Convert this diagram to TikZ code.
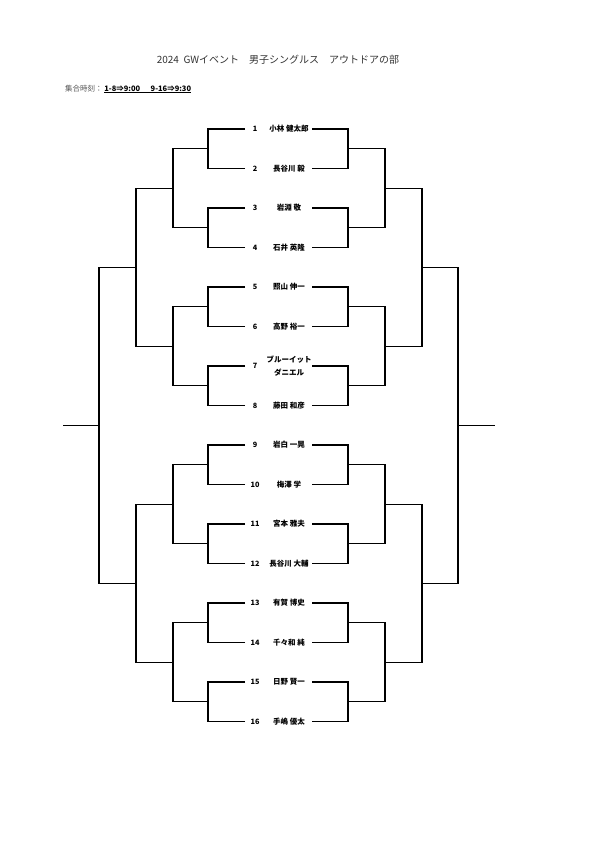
\documentclass[tikz,border=0pt]{standalone}
\usepackage{fontspec}
\setmainfont{Noto Sans CJK JP}
\usetikzlibrary{positioning}
\definecolor{gray1}{HTML}{333333}
\definecolor{gray2}{HTML}{555555}

\begin{document}
\begin{tikzpicture}[
  x=1pt, y=-1pt,
  bracket/.style = {draw=black, line width=1.3pt},
  seed/.style    = {font=\fontsize{7.3}{8}\selectfont\bfseries, inner sep=0pt},
  player/.style  = {font=\fontsize{7.5}{13}\selectfont\bfseries, inner sep=0pt,
                    align=center}
]
\useasboundingbox (0,0) rectangle (600,848);

% Title
\node[font=\fontsize{10}{12}\selectfont, text=gray1] (title) at (278,60)
  {2024\ \ GWイベント\quad 男子シングルス\quad アウトドアの部};
\node[anchor=west, font=\fontsize{7.5}{8}\selectfont, text=gray2, inner sep=0pt]
  (meet) at (65,89) {集合時刻：\ \textcolor{black}{\bfseries\underline{1-8⇒9:00\hspace{1.4em}9-16⇒9:30}}};

% Players
\node[seed] (n1)  at (255,129)   {1};  \node[player] (p1)  at (289,129)   {小林 健太郎};
\node[seed] (n2)  at (255,168.5) {2};  \node[player] (p2)  at (289,168.5) {長谷川 毅};
\node[seed] (n3)  at (255,208)   {3};  \node[player] (p3)  at (289,208)   {岩淵 敬};
\node[seed] (n4)  at (255,247.5) {4};  \node[player] (p4)  at (289,247.5) {石井 英隆};
\node[seed] (n5)  at (255,287)   {5};  \node[player] (p5)  at (289,287)   {照山 伸一};
\node[seed] (n6)  at (255,326.5) {6};  \node[player] (p6)  at (289,326.5) {高野 裕一};
\node[seed] (n7)  at (255,366)   {7};  \node[player] (p7)  at (289,366)   {ブルーイット\\ダニエル};
\node[seed] (n8)  at (255,405.5) {8};  \node[player] (p8)  at (289,405.5) {藤田 和彦};
\node[seed] (n9)  at (255,445)   {9};  \node[player] (p9)  at (289,445)   {岩白 一晃};
\node[seed] (n10) at (255,484.5) {10}; \node[player] (p10) at (289,484.5) {梅澤 学};
\node[seed] (n11) at (255,524)   {11}; \node[player] (p11) at (289,524)   {宮本 雅夫};
\node[seed] (n12) at (255,563.5) {12}; \node[player] (p12) at (289,563.5) {長谷川 大輔};
\node[seed] (n13) at (255,603)   {13}; \node[player] (p13) at (289,603)   {有賀 博史};
\node[seed] (n14) at (255,642.5) {14}; \node[player] (p14) at (289,642.5) {千々和 純};
\node[seed] (n15) at (255,682)   {15}; \node[player] (p15) at (289,682)   {日野 賢一};
\node[seed] (n16) at (255,721.5) {16}; \node[player] (p16) at (289,721.5) {手嶋 優太};

% Bracket points (left / right)
\foreach \i in {1,...,16} {
  \coordinate (l\i) at (245,{129+39.5*(\i-1)});
  \coordinate (r\i) at (312,{129+39.5*(\i-1)});
}
\foreach \k in {1,...,8} {
  \coordinate (la\k) at (208,{129+39.5*(2*\k-1.5)});
  \coordinate (ra\k) at (348,{129+39.5*(2*\k-1.5)});
}
\foreach \k in {1,...,4} {
  \coordinate (lb\k) at (173,{129+39.5*(4*\k-2.5)});
  \coordinate (rb\k) at (385,{129+39.5*(4*\k-2.5)});
}
\foreach \k in {1,2} {
  \coordinate (lc\k) at (136,{129+39.5*(8*\k-4.5)});
  \coordinate (rc\k) at (422,{129+39.5*(8*\k-4.5)});
}
\coordinate (ld) at (99,425.25);   \coordinate (rd) at (458,425.25);
\coordinate (lf) at (63,425.25);   \coordinate (rf) at (495,425.25);

% Brackets
\foreach \i in {1,...,16} {
  \pgfmathtruncatemacro\k{(\i+1)/2}
  \draw[bracket] (l\i) -| (la\k);
  \draw[bracket] (r\i) -| (ra\k);
}
\foreach \i in {1,...,8} {
  \pgfmathtruncatemacro\k{(\i+1)/2}
  \draw[bracket] (la\i) -| (lb\k);
  \draw[bracket] (ra\i) -| (rb\k);
}
\foreach \i in {1,...,4} {
  \pgfmathtruncatemacro\k{(\i+1)/2}
  \draw[bracket] (lb\i) -| (lc\k);
  \draw[bracket] (rb\i) -| (rc\k);
}
\foreach \i in {1,2} {
  \draw[bracket] (lc\i) -| (ld);
  \draw[bracket] (rc\i) -| (rd);
}
\draw[bracket] (ld) -- (lf);
\draw[bracket] (rd) -- (rf);

\end{tikzpicture}
\end{document}
